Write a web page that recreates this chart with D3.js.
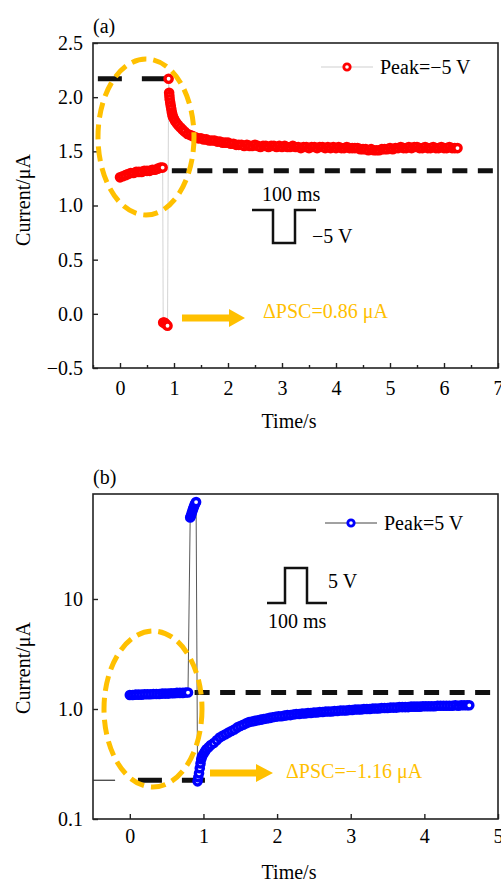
<!DOCTYPE html>
<html>
<head>
<meta charset="utf-8">
<script src="https://cdn.jsdelivr.net/npm/d3@7"></script>
<style>
body { margin: 0; background: #fff; }
svg text { font-family: "Liberation Serif", "Times New Roman", serif; font-size: 20px; fill: #000; }
</style>
</head>
<body>
<div id="main"></div>
<script>
// ---- data ----
// panel (a): peak = -5 V   [time (s), current (uA)]
const aBefore = [[0.00,1.26],[0.05,1.27],[0.10,1.28],[0.15,1.29],[0.20,1.30],[0.25,1.30],[0.30,1.31],[0.35,1.31],
  [0.40,1.31],[0.45,1.32],[0.50,1.32],[0.55,1.32],[0.60,1.33],[0.65,1.33],[0.70,1.34],[0.75,1.35],[0.79,1.35]];
const aDip = [[0.80,-0.08],[0.82,-0.08],[0.84,-0.09],[0.86,-0.10],[0.88,-0.11]];
const aAfter = [[0.90,2.17],[0.91,2.04],[0.915,2.01],[0.92,1.98],[0.93,1.95],[0.94,1.92],[0.95,1.89],[0.96,1.86],
  [0.97,1.84],[0.98,1.82],[1.00,1.80],[1.02,1.78],[1.05,1.76],[1.08,1.74],[1.12,1.72],[1.16,1.70],[1.20,1.68],
  [1.25,1.66],[1.30,1.65],[1.35,1.64],[1.40,1.63],[1.45,1.62],[1.50,1.62],[1.55,1.61],[1.60,1.61],[1.65,1.60],
  [1.70,1.60],[1.75,1.60],[1.80,1.59],[1.85,1.59],[1.90,1.58],[1.95,1.58],[2.00,1.58],[2.05,1.57],[2.10,1.57],
  [2.15,1.56],[2.20,1.56],[2.25,1.56],[2.30,1.55],[2.35,1.56],[2.40,1.55],[2.45,1.55],[2.50,1.56],[2.55,1.55],
  [2.60,1.54],[2.65,1.55],[2.70,1.55],[2.75,1.54],[2.80,1.55],[2.85,1.55],[2.90,1.54],[2.95,1.55],[3.00,1.54],
  [3.05,1.55],[3.10,1.54],[3.15,1.54],[3.20,1.55],[3.25,1.54],[3.30,1.54],[3.35,1.53],[3.40,1.54],[3.45,1.54],
  [3.50,1.53],[3.55,1.54],[3.60,1.54],[3.65,1.53],[3.70,1.54],[3.75,1.54],[3.80,1.53],[3.85,1.54],[3.90,1.53],
  [3.95,1.54],[4.00,1.53],[4.05,1.54],[4.10,1.53],[4.15,1.53],[4.20,1.54],[4.25,1.53],[4.30,1.53],[4.35,1.53],
  [4.40,1.53],[4.45,1.52],[4.50,1.52],[4.55,1.52],[4.60,1.51],[4.65,1.52],[4.70,1.51],[4.75,1.51],[4.80,1.51],
  [4.85,1.52],[4.90,1.52],[4.95,1.52],[5.00,1.53],[5.05,1.52],[5.10,1.53],[5.15,1.53],[5.20,1.54],[5.25,1.53],
  [5.30,1.53],[5.35,1.54],[5.40,1.53],[5.45,1.54],[5.50,1.54],[5.55,1.53],[5.60,1.53],[5.65,1.54],[5.70,1.53],
  [5.75,1.53],[5.80,1.54],[5.85,1.53],[5.90,1.53],[5.95,1.54],[6.00,1.53],[6.05,1.53],[6.10,1.54],[6.15,1.53],
  [6.20,1.53],[6.25,1.53]];

// panel (b): peak = 5 V
const bBefore = [[0.00,1.34],[0.04,1.34],[0.08,1.35],[0.12,1.35],[0.16,1.35],[0.20,1.36],[0.24,1.36],[0.28,1.36],
  [0.32,1.37],[0.36,1.37],[0.40,1.37],[0.44,1.38],[0.48,1.38],[0.52,1.38],[0.56,1.39],[0.60,1.39],[0.64,1.40],
  [0.68,1.40],[0.72,1.40],[0.76,1.41],[0.79,1.41]];
const bSpike = [[0.82,55],[0.83,57],[0.84,60],[0.85,63],[0.86,66],[0.87,69],[0.88,72],[0.89,74],[0.90,76]];
const bAfter = [[0.92,0.22],[0.93,0.24],[0.94,0.26],[0.95,0.29],[0.96,0.32],[0.97,0.35],[0.98,0.37],[1.00,0.39],
  [1.02,0.41],[1.04,0.43],[1.07,0.45],[1.10,0.47],[1.14,0.49],[1.18,0.52],[1.22,0.55],[1.26,0.57],[1.30,0.59],
  [1.34,0.61],[1.38,0.63],[1.42,0.65],[1.46,0.68],[1.50,0.70],[1.54,0.72],[1.58,0.74],[1.62,0.76],[1.66,0.77],
  [1.70,0.78],[1.74,0.79],[1.78,0.80],[1.82,0.81],[1.86,0.82],[1.90,0.83],[1.94,0.84],[1.98,0.85],[2.02,0.86],
  [2.06,0.86],[2.10,0.87],[2.14,0.88],[2.18,0.88],[2.22,0.89],[2.26,0.90],[2.30,0.90],[2.34,0.91],[2.38,0.91],
  [2.42,0.92],[2.46,0.92],[2.50,0.93],[2.54,0.93],[2.58,0.94],[2.62,0.94],[2.66,0.95],[2.70,0.95],[2.74,0.95],
  [2.78,0.96],[2.82,0.96],[2.86,0.97],[2.90,0.97],[2.94,0.97],[2.98,0.98],[3.02,0.98],[3.06,0.99],[3.10,0.99],
  [3.14,0.99],[3.18,1.00],[3.22,1.00],[3.26,1.00],[3.30,1.01],[3.34,1.01],[3.38,1.01],[3.42,1.02],[3.46,1.02],
  [3.50,1.02],[3.54,1.03],[3.58,1.03],[3.62,1.03],[3.66,1.04],[3.70,1.04],[3.74,1.04],[3.78,1.04],[3.82,1.05],
  [3.86,1.05],[3.90,1.05],[3.94,1.05],[3.98,1.06],[4.02,1.06],[4.06,1.06],[4.10,1.06],[4.14,1.06],[4.18,1.07],
  [4.22,1.07],[4.26,1.07],[4.30,1.07],[4.34,1.07],[4.38,1.07],[4.42,1.08],[4.46,1.07],[4.50,1.08],[4.54,1.08],
  [4.58,1.08],[4.61,1.08]];

// reference levels: [current, t start, t end]
const aLevels = [[2.17,-0.41,0.90],[1.32,0.96,7.0]];
const bLevels = [[0.225,0.11,1.02],[1.41,0.88,5.0]];

// axes
const aXTicks = [0,1,2,3,4,5,6,7];
const aXMinor = [-0.5,0.5,1.5,2.5,3.5,4.5,5.5,6.5];
const aYTicks = [-0.5,0,0.5,1,1.5,2,2.5];
const bXTicks = [0,1,2,3,4,5];
const bYTicks = [0.1,1,10];
const bYLabels = ["0.1","1.0","10"];

const ctx = {
    WIDTH: 501,
    HEIGHT: 880,
    left: 93,
    right: 498,
};

function drawPanel(svg, p){
    let g = svg.append("g");
    let x = d3.scaleLinear().domain(p.xDomain).range([ctx.left, ctx.right]);
    let y = p.log ? d3.scaleLog().domain(p.yDomain).range([p.bottom, p.top])
                  : d3.scaleLinear().domain(p.yDomain).range([p.bottom, p.top]);

    // x axis (ticks inside)
    g.append("g").attr("transform", `translate(0,${p.bottom})`)
        .call(d3.axisBottom(x).tickValues(p.xTicks).tickFormat(d3.format("d"))
              .tickSize(-5).tickSizeOuter(0).tickPadding(p.xPad));
    if (p.xMinor){
        g.append("g").attr("transform", `translate(0,${p.bottom})`)
         .call(d3.axisBottom(x).tickValues(p.xMinor).tickFormat("").tickSize(-3).tickSizeOuter(0));
    }
    g.append("g").attr("transform", `translate(${ctx.left},0)`)
        .call(d3.axisLeft(y).tickValues(p.yTicks).tickFormat(p.yFormat)
              .tickSize(-5).tickSizeOuter(0).tickPadding(10));
    g.selectAll(".domain").remove();
    g.selectAll(".tick line").attr("stroke", "#222").attr("stroke-width", 1.4);
    g.selectAll(".tick text").style("font-family", "Liberation Serif").style("font-size", "20px");

    // frame
    g.append("rect")
        .attr("x", ctx.left).attr("y", p.top)
        .attr("width", ctx.right - ctx.left).attr("height", p.bottom - p.top)
        .attr("fill", "none").attr("stroke", "#222").attr("stroke-width", 1.6);

    // dashed reference levels
    g.selectAll(".lvl").data(p.levels).enter().append("line")
        .attr("x1", d => x(d[1])).attr("x2", d => x(d[2]))
        .attr("y1", d => y(d[0])).attr("y2", d => y(d[0]))
        .attr("stroke", "#111").attr("stroke-width", 5)
        .attr("stroke-dasharray", (d, i) => i === 0 ? "24,20" : "15,10.5");
    if (p.stub){
        g.append("line")
            .attr("x1", x(p.stub[1])).attr("x2", x(p.stub[2]))
            .attr("y1", y(p.stub[0])).attr("y2", y(p.stub[0]))
            .attr("stroke", "#333").attr("stroke-width", 1.2);
    }

    // connecting line + markers (dense open circles merge into a band)
    let line = d3.line().x(d => x(d[0])).y(d => y(d[1]));
    g.append("path").datum(p.data).attr("d", line)
        .attr("fill", "none").attr("stroke", p.lineColor).attr("stroke-width", 0.9);
    g.selectAll(".pt").data(p.data).enter().append("circle")
        .attr("cx", d => x(d[0])).attr("cy", d => y(d[1])).attr("r", 3.6)
        .attr("fill", "#fff").attr("stroke", p.color).attr("stroke-width", 3.4);

    // legend
    let L = p.legend;
    g.append("line").attr("x1", L.x).attr("x2", L.x + 52).attr("y1", L.y).attr("y2", L.y)
        .attr("stroke", p.lineColor).attr("stroke-width", 1);
    g.append("circle").attr("cx", L.x + 26).attr("cy", L.y).attr("r", 3.2)
        .attr("fill", "#fff").attr("stroke", p.color).attr("stroke-width", 2.8);
    g.append("text").attr("x", L.x + 59).attr("y", L.y + 7).text(L.text);

    // highlight ellipse
    let E = p.ellipse;
    g.append("ellipse").attr("cx", E.cx).attr("cy", E.cy).attr("rx", E.rx).attr("ry", E.ry)
        .attr("fill", "none").attr("stroke", "#FFC000").attr("stroke-width", 5)
        .attr("stroke-dasharray", "15,7");

    // arrow + delta PSC
    let A = p.arrow;
    g.append("path")
        .attr("d", `M${A.x0},${A.y - 3.5} L${A.xb},${A.y - 3.5} L${A.xb},${A.y - 9} L${A.x1},${A.y}
                    L${A.xb},${A.y + 9} L${A.xb},${A.y + 3.5} L${A.x0},${A.y + 3.5} Z`)
        .attr("fill", "#FFC000");
    g.append("text").attr("x", A.tx).attr("y", A.ty).style("fill", "#FFC000").text(A.text);

    // pulse inset
    let P = p.pulse;
    g.append("path").attr("d", P.d).attr("fill", "none").attr("stroke", "#111").attr("stroke-width", 2.5);
    P.labels.forEach(l => g.append("text").attr("x", l[0]).attr("y", l[1]).text(l[2]));

    // titles
    g.append("text").attr("x", ctx.left).attr("y", p.top - 10).text(p.tag);
    g.append("text").attr("text-anchor", "middle").attr("x", 289).attr("y", p.bottom + 60).text("Time/s");
    g.append("text").attr("text-anchor", "middle")
        .attr("transform", `translate(30,${p.yLabelY}) rotate(-90)`).text("Current/μA");
}

function createViz(){
    let svg = d3.select("#main").append("svg")
        .attr("width", ctx.WIDTH).attr("height", ctx.HEIGHT);

    drawPanel(svg, {
        tag: "(a)", top: 43, bottom: 368, xDomain: [-0.5, 7], yDomain: [-0.5, 2.5], log: false,
        xTicks: aXTicks, xMinor: aXMinor, yTicks: aYTicks, yFormat: d3.format(".1f"), xPad: 13,
        data: aBefore.concat(aDip, aAfter), levels: aLevels,
        color: "#FF0000", lineColor: "#cfcfcf", yLabelY: 200,
        legend: {x: 321, y: 67, text: "Peak=−5 V"},
        ellipse: {cx: 146, cy: 137, rx: 48, ry: 78},
        arrow: {x0: 182, xb: 229, x1: 245, y: 318, tx: 263, ty: 318, text: "ΔPSC=0.86 μA"},
        pulse: {d: "M252,210 H273 V243 H295 V210 H316",
                labels: [[262, 201, "100 ms"], [312, 243, "−5 V"]]}
    });

    drawPanel(svg, {
        tag: "(b)", top: 494, bottom: 819, xDomain: [-0.5, 5], yDomain: [0.1, 90], log: true,
        xTicks: bXTicks, yTicks: bYTicks, yFormat: (d, i) => bYLabels[i], xPad: 10,
        data: bBefore.concat(bSpike, bAfter), levels: bLevels, stub: [0.225, -0.5, -0.2],
        color: "#0000FF", lineColor: "#444", yLabelY: 668,
        legend: {x: 325, y: 523, text: "Peak=5 V"},
        ellipse: {cx: 153, cy: 709, rx: 49, ry: 78},
        arrow: {x0: 210, xb: 256, x1: 273, y: 773, tx: 286, ty: 778, text: "ΔPSC=−1.16 μA"},
        pulse: {d: "M267,603 H285 V568 H307 V603 H327",
                labels: [[328, 588, "5 V"], [268, 628, "100 ms"]]}
    });
}

createViz();
</script>
</body>
</html>
